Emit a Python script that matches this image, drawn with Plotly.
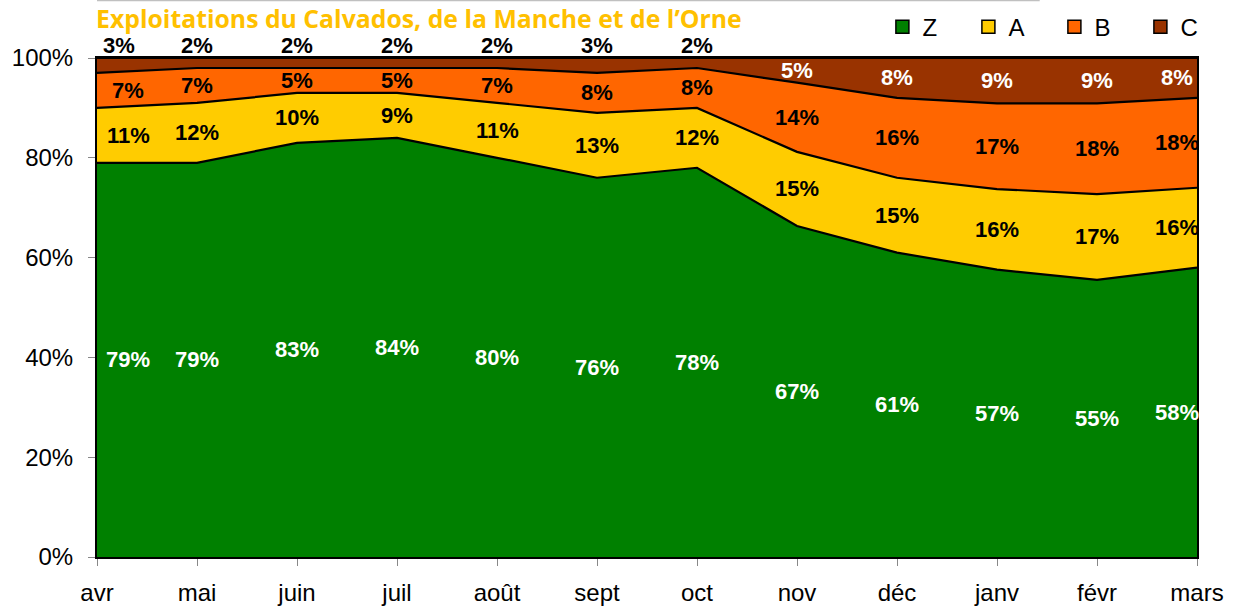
import plotly.graph_objects as go

categories = ["avr", "mai", "juin", "juil", "août", "sept", "oct", "nov", "déc", "janv", "févr", "mars"]
Z = [79, 79, 83, 84, 80, 76, 78, 67, 61, 57, 55, 58]
A = [11, 12, 10, 9, 11, 13, 12, 15, 15, 16, 17, 16]
B = [7, 7, 5, 5, 7, 8, 8, 14, 16, 17, 18, 18]
C = [3, 2, 2, 2, 2, 3, 2, 5, 8, 9, 9, 8]
names = ["Z", "A", "B", "C"]
colors = ["#008000", "#FFCC00", "#FF6600", "#993300"]
label_colors = ["white", "black", "black", "white"]
title_text = "Exploitations du Calvados, de la Manche et de l’Orne"

series = [Z, A, B, C]
fig = go.Figure()
for name, vals, col in zip(names, series, colors):
    fig.add_trace(go.Scatter(
        x=categories, y=vals, name=name, stackgroup="one", groupnorm="percent",
        mode="lines", line=dict(color="black", width=2.2), fillcolor=col,
        showlegend=False, hoverinfo="skip"))
for name, col in zip(names, colors):
    fig.add_trace(go.Scatter(
        x=[None], y=[None], name=name, mode="markers",
        marker=dict(symbol="square", size=13, color=col, line=dict(color="black", width=1.5)),
        showlegend=True))

annotations = []
n = len(categories)
for i, cat in enumerate(categories):
    tot = sum(s[i] for s in series)
    cum = 0.0
    xs = 31 if i == 0 else (-20 if i == n - 1 else 0)
    for k, s in enumerate(series):
        pct = s[i] / tot * 100
        mid = cum + pct / 2
        cum += pct
        font = dict(family="Liberation Sans, Arial", size=22, color=label_colors[k])
        if k == 3 and s[i] < 5:
            annotations.append(dict(
                x=i, y=1, xref="x", yref="paper", yanchor="middle", yshift=13,
                text=f"<b>{s[i]}%</b>", showarrow=False,
                xshift=(xs - 9 if i == 0 else xs),
                font=dict(family="Liberation Sans, Arial", size=22, color="black")))
        else:
            annotations.append(dict(
                x=i, y=mid, xref="x", yref="y", text=f"<b>{s[i]}%</b>", showarrow=False,
                xshift=xs, font=font))

annotations.append(dict(
    x=0, y=1.08, xref="paper", yref="paper", xanchor="left", yanchor="middle",
    xshift=-3, text=f"<b>{title_text}</b>", showarrow=False,
    font=dict(family="Open Sans", size=24.8, color="#FFC000")))

fig.update_layout(
    width=1240, height=608,
    margin=dict(l=97, r=43, t=58, b=51, autoexpand=False),
    paper_bgcolor="white", plot_bgcolor="white",
    font=dict(family="Liberation Sans, Arial", size=24, color="black"),
    annotations=annotations,
    legend=dict(orientation="h", x=0.714, y=1.062, xanchor="left", yanchor="middle",
                traceorder="normal",
                font=dict(size=24), entrywidth=41, entrywidthmode="pixels",
                itemwidth=30, bgcolor="rgba(0,0,0,0)"),
    shapes=[dict(type="line", xref="paper", yref="paper", x0=0, x1=0.857,
                 y0=1.115, y1=1.115, line=dict(color="#C0C0C0", width=1.5))],
    showlegend=True,
)
fig.update_xaxes(type="category", range=[0, n - 1], showline=True, linecolor="black",
                 linewidth=2, mirror=True, ticks="outside", ticklen=7, tickcolor="#888",
                 showgrid=False, zeroline=False, ticklabelstandoff=6, automargin=False,
                 tickfont=dict(size=24))
fig.update_yaxes(range=[0, 100], dtick=20, ticksuffix="%", showline=True, linecolor="black",
                 linewidth=2, mirror=True, ticks="outside", ticklen=7, tickcolor="#888",
                 showgrid=False, zeroline=False, ticklabelstandoff=10, automargin=False,
                 tickfont=dict(size=24))

fig.write_html("out.html", config={"displayModeBar": False},
               post_script="document.body.style.margin='0px';document.body.style.overflow='hidden';")
